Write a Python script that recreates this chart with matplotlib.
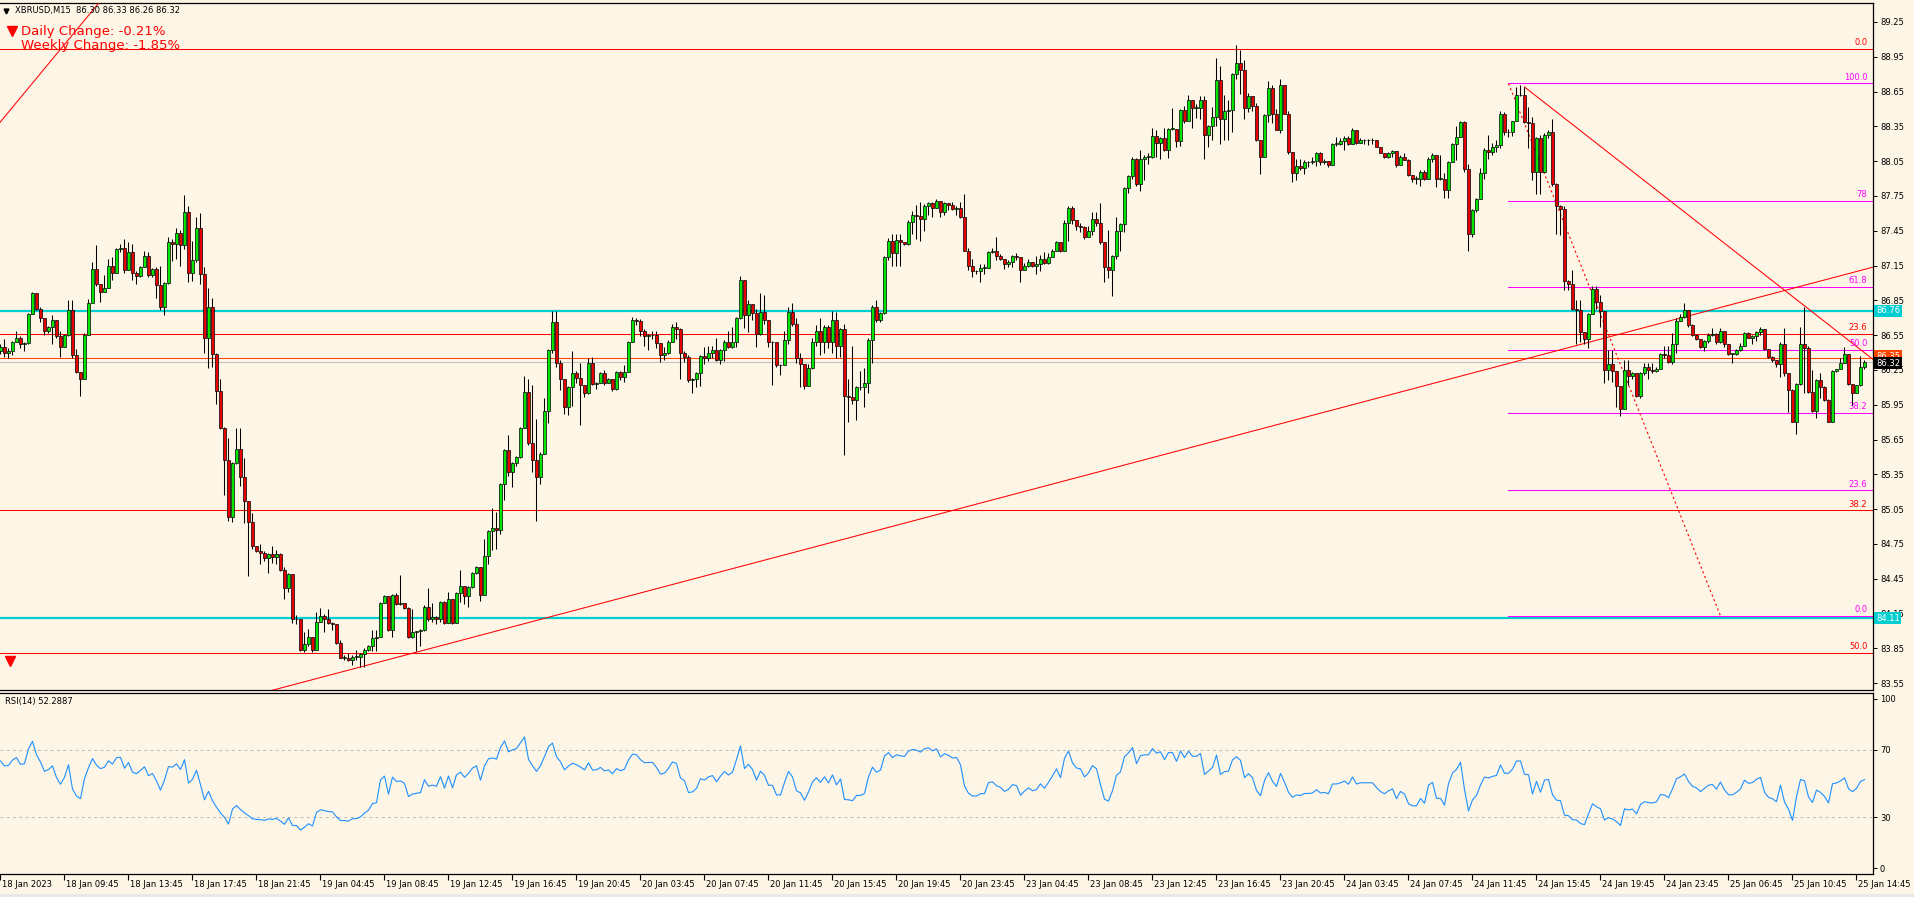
import numpy as np
import matplotlib
matplotlib.use('Agg')
import matplotlib.pyplot as plt
from matplotlib.transforms import blended_transform_factory as btf

# ---------------- data ----------------
first_open = 86.41
closes = [
86.45,86.40,86.41,86.49,86.53,86.47,86.48,86.73,86.91,86.78,86.70,86.59,86.62,86.68,86.54,86.45,86.55,86.77,86.38,86.23,
86.17,86.55,86.83,87.12,86.99,86.92,86.96,87.15,87.09,87.29,87.30,87.11,87.27,87.09,87.06,87.14,87.23,87.07,87.12,86.98,
86.79,87.00,87.35,87.34,87.43,87.33,87.61,87.09,87.20,87.47,87.08,86.53,86.79,86.39,86.07,85.75,85.47,84.98,85.45,85.57,
85.33,85.12,84.94,84.73,84.69,84.67,84.63,84.66,84.64,84.66,84.53,84.37,84.49,84.10,84.10,83.84,83.89,83.95,83.84,84.08,
84.13,84.10,84.07,84.06,83.90,83.77,83.77,83.75,83.78,83.78,83.80,83.84,83.87,83.94,83.95,84.24,84.30,84.01,84.31,84.23,
84.24,84.20,83.95,83.99,84.00,84.01,84.21,84.10,84.12,84.10,84.25,84.07,84.28,84.07,84.33,84.39,84.30,84.38,84.50,84.55,
84.31,84.65,84.86,84.89,84.87,85.27,85.56,85.37,85.45,85.50,85.75,86.06,85.62,85.47,85.33,85.53,85.90,86.42,86.66,86.31,
86.17,85.93,86.10,86.22,86.18,86.12,86.05,86.31,86.13,86.14,86.22,86.14,86.17,86.09,86.23,86.19,86.23,86.49,86.68,86.67,
86.59,86.54,86.55,86.55,86.48,86.38,86.40,86.49,86.62,86.60,86.40,86.36,86.16,86.17,86.22,86.37,86.35,86.40,86.42,86.34,
86.42,86.49,86.45,86.49,86.70,87.03,86.72,86.82,86.74,86.56,86.75,86.68,86.49,86.49,86.29,86.29,86.51,86.75,86.65,86.35,
86.30,86.11,86.27,86.49,86.59,86.49,86.62,86.49,86.68,86.46,86.60,86.03,86.02,85.99,86.10,86.10,86.14,86.51,86.79,86.68,
86.74,87.22,87.36,87.26,87.37,87.35,87.34,87.53,87.59,87.58,87.55,87.66,87.69,87.65,87.71,87.61,87.69,87.67,87.64,87.65,
87.57,87.28,87.15,87.10,87.10,87.13,87.13,87.27,87.28,87.23,87.21,87.16,87.18,87.23,87.22,87.11,87.15,87.18,87.15,87.16,
87.21,87.17,87.22,87.28,87.35,87.28,87.52,87.65,87.54,87.49,87.48,87.40,87.45,87.55,87.52,87.35,87.14,87.11,87.23,87.45,
87.51,87.82,87.92,88.07,87.85,88.07,88.09,88.09,88.27,88.21,88.25,88.15,88.33,88.33,88.22,88.49,88.40,88.58,88.51,88.51,
88.58,88.28,88.35,88.43,88.75,88.41,88.48,88.49,88.80,88.90,88.84,88.51,88.61,88.53,88.23,88.09,88.45,88.68,88.46,88.32,
88.71,88.46,88.13,87.95,88.01,87.99,88.04,88.04,88.05,88.12,88.04,88.05,88.02,88.20,88.20,88.22,88.25,88.20,88.32,88.21,
88.23,88.23,88.23,88.23,88.17,88.12,88.09,88.12,88.14,88.02,88.09,88.06,87.93,87.90,87.90,87.96,87.90,88.07,88.10,87.90,
87.90,87.80,88.04,88.20,88.26,88.39,87.98,87.42,87.63,87.72,87.95,88.15,88.13,88.17,88.19,88.46,88.30,88.30,88.40,88.62,
88.62,88.39,88.38,87.96,88.25,87.96,88.28,88.30,87.85,87.66,87.64,87.02,86.99,86.78,86.77,86.58,86.52,86.73,86.95,86.84,
86.76,86.25,86.30,86.24,86.11,85.91,86.25,86.20,86.22,86.03,86.22,86.28,86.25,86.24,86.26,86.39,86.38,86.32,86.47,86.67,
86.71,86.77,86.64,86.55,86.52,86.45,86.50,86.55,86.56,86.49,86.59,86.47,86.39,86.39,86.42,86.46,86.57,86.53,86.54,86.58,
86.60,86.43,86.36,86.34,86.30,86.47,86.22,86.08,85.80,86.13,86.47,86.44,86.06,85.90,86.16,86.10,85.99,85.80,86.24,86.26,
86.31,86.39,86.13,86.05,86.12,86.28,86.32]
highs = [
86.47,86.52,86.44,86.50,86.59,86.54,86.49,86.74,86.92,86.91,86.79,86.69,86.63,86.72,86.68,86.59,86.56,86.85,86.85,86.43,
86.23,86.57,86.86,87.18,87.33,86.98,87.07,87.21,87.22,87.30,87.34,87.38,87.35,87.34,87.10,87.15,87.28,87.27,87.13,87.14,
87.15,87.01,87.40,87.38,87.47,87.46,87.76,87.66,87.36,87.57,87.60,87.14,86.96,86.87,86.40,86.17,85.76,85.66,85.46,85.75,
85.75,85.49,85.12,85.02,84.73,84.75,84.69,84.67,84.73,84.70,84.67,84.55,84.50,84.41,84.14,84.08,83.99,84.02,83.95,84.16,
84.20,84.15,84.19,84.08,84.04,83.92,83.79,83.81,83.79,83.84,83.81,83.85,83.88,84.01,84.01,84.25,84.31,84.30,84.32,84.33,
84.48,84.24,84.21,84.19,84.00,84.02,84.22,84.37,84.24,84.13,84.26,84.26,84.34,84.28,84.34,84.53,84.39,84.39,84.51,84.56,
84.55,84.79,84.87,85.06,85.03,85.28,85.57,85.69,85.46,85.51,85.76,86.20,86.17,86.12,85.83,85.54,86.01,86.43,86.76,86.76,
86.34,86.16,86.11,86.41,86.24,86.31,86.12,86.35,86.36,86.15,86.23,86.25,86.18,86.17,86.24,86.24,86.29,86.50,86.71,86.70,
86.69,86.60,86.56,86.59,86.59,86.48,86.45,86.51,86.65,86.66,86.61,86.41,86.38,86.18,86.23,86.38,86.45,86.46,86.46,86.53,
86.43,86.51,86.59,86.62,86.71,87.06,87.03,86.85,86.80,86.78,86.91,86.90,86.68,86.50,86.48,86.30,86.59,86.79,86.83,86.70,
86.40,86.29,86.30,86.53,86.64,86.70,86.64,86.64,86.76,86.75,86.61,86.65,86.17,86.46,86.11,86.24,86.27,86.53,86.81,86.85,
86.75,87.23,87.39,87.42,87.42,87.42,87.35,87.54,87.62,87.67,87.70,87.68,87.70,87.70,87.72,87.70,87.70,87.69,87.70,87.66,
87.70,87.77,87.30,87.21,87.11,87.16,87.16,87.28,87.30,87.40,87.25,87.20,87.20,87.24,87.26,87.22,87.17,87.21,87.18,87.23,
87.24,87.27,87.26,87.29,87.36,87.35,87.54,87.66,87.66,87.53,87.52,87.49,87.49,87.61,87.61,87.69,87.35,87.46,87.24,87.57,
87.52,87.83,87.93,88.09,88.08,88.15,88.10,88.12,88.34,88.32,88.26,88.34,88.34,88.51,88.32,88.50,88.53,88.62,88.58,88.54,
88.61,88.61,88.36,88.52,88.94,88.87,88.62,88.58,88.81,89.05,89.01,88.92,88.64,88.59,88.55,88.22,88.46,88.74,88.71,88.50,
88.76,88.71,88.48,88.13,88.07,88.07,88.06,88.05,88.09,88.13,88.13,88.07,88.05,88.21,88.26,88.25,88.27,88.27,88.34,88.32,
88.25,88.24,88.24,88.25,88.23,88.16,88.11,88.13,88.15,88.14,88.10,88.12,88.07,87.92,87.92,87.97,87.97,88.09,88.12,88.00,
88.10,87.95,88.05,88.21,88.35,88.40,88.40,88.03,87.64,87.73,87.99,88.16,88.28,88.21,88.23,88.48,88.47,88.33,88.40,88.69,
88.71,88.69,88.52,88.43,88.26,88.28,88.29,88.32,88.41,87.86,87.67,87.66,87.03,87.11,86.85,86.85,86.57,86.74,86.97,86.97,
86.90,86.75,86.42,86.42,86.20,86.11,86.34,86.34,86.23,86.20,86.23,86.31,86.31,86.31,86.28,86.40,86.46,86.46,86.57,86.70,
86.73,86.83,86.77,86.65,86.56,86.51,86.51,86.57,86.61,86.57,86.61,86.58,86.47,86.40,86.43,86.48,86.58,86.58,86.55,86.59,
86.62,86.58,86.43,86.37,86.34,86.49,86.61,86.19,86.09,86.14,86.62,86.79,86.46,86.25,86.17,86.22,86.11,86.00,86.25,86.26,
86.35,86.45,86.38,86.13,86.12,86.37,86.34]
lows = [
86.39,86.36,86.35,86.38,86.50,86.44,86.41,86.47,86.73,86.77,86.66,86.55,86.57,86.47,86.53,86.36,86.45,86.54,86.35,86.22,
86.03,86.17,86.55,86.84,86.97,86.84,86.92,86.97,87.03,87.10,87.27,87.09,87.14,87.03,86.99,87.05,87.16,87.05,87.05,86.87,
86.77,86.72,86.99,87.19,87.21,87.15,87.29,87.01,87.02,87.18,86.99,86.40,86.27,86.28,85.96,85.74,85.17,84.95,84.94,85.44,
85.25,84.93,84.47,84.71,84.68,84.58,84.60,84.50,84.59,84.58,84.52,84.28,84.34,84.07,84.06,83.83,83.82,83.87,83.82,83.84,
84.09,83.99,84.06,84.01,83.89,83.77,83.75,83.74,83.71,83.75,83.69,83.69,83.83,83.83,83.83,83.96,84.24,84.00,83.95,84.22,
84.22,84.19,83.94,83.94,83.83,83.87,84.00,84.09,84.08,84.06,84.08,84.06,84.09,84.06,84.07,84.25,84.23,84.21,84.37,84.49,
84.26,84.34,84.58,84.70,84.71,84.84,85.13,85.34,85.24,85.42,85.49,85.75,85.60,85.37,84.95,85.27,85.53,85.79,86.40,86.28,
86.08,85.87,85.86,85.94,86.14,85.78,86.02,86.04,86.12,86.09,86.14,86.12,86.14,86.07,86.08,86.16,86.15,86.38,86.49,86.64,
86.54,86.46,86.42,86.52,86.44,86.32,86.34,86.39,86.49,86.52,86.17,86.32,86.15,86.05,86.10,86.11,86.30,86.33,86.35,86.33,
86.30,86.33,86.44,86.44,86.45,86.69,86.61,86.58,86.68,86.45,86.55,86.65,86.45,86.12,86.28,86.21,86.29,86.47,86.63,86.31,
86.10,86.09,86.11,86.26,86.46,86.38,86.40,86.44,86.40,86.35,86.36,85.52,85.80,85.96,85.82,86.08,85.93,86.05,86.31,86.66,
86.66,86.73,87.20,87.15,87.15,87.15,87.33,87.33,87.42,87.38,87.36,87.45,87.59,87.57,87.65,87.57,87.59,87.63,87.63,87.59,
87.56,87.28,87.11,87.05,87.08,87.01,87.08,87.13,87.26,87.20,87.20,87.12,87.14,87.14,87.20,87.01,87.11,87.14,87.14,87.08,
87.10,87.16,87.16,87.22,87.28,87.27,87.28,87.36,87.51,87.46,87.44,87.38,87.40,87.41,87.49,87.34,87.01,87.04,86.89,87.21,
87.28,87.44,87.78,87.90,87.84,87.79,87.89,88.03,88.08,88.09,88.07,88.14,88.08,88.32,88.17,88.18,88.38,88.41,88.34,88.42,
88.41,88.07,88.17,88.23,88.35,88.20,88.23,88.23,88.30,88.76,88.63,88.41,88.47,88.48,88.22,87.94,88.09,88.39,88.38,88.32,
88.29,88.46,88.11,87.87,87.89,87.97,87.94,88.00,88.03,88.01,88.02,88.03,88.00,88.02,88.18,88.19,88.15,88.19,88.20,88.20,
88.22,88.20,88.19,88.20,88.17,88.12,88.08,88.08,88.09,88.00,88.02,88.06,87.92,87.87,87.85,87.84,87.89,87.90,88.04,87.83,
87.89,87.73,87.73,88.04,88.06,88.26,87.96,87.28,87.40,87.61,87.72,87.90,88.07,88.10,88.13,88.16,88.28,88.26,88.27,88.40,
88.61,88.38,88.16,87.89,87.77,87.77,87.99,88.25,87.84,87.42,87.41,86.94,86.94,86.77,86.47,86.49,86.47,86.44,86.74,86.78,
86.62,86.14,86.16,86.15,85.93,85.85,85.92,86.12,86.17,86.02,86.01,86.21,86.17,86.22,86.23,86.26,86.35,86.31,86.30,86.40,
86.67,86.70,86.62,86.54,86.51,86.44,86.41,86.48,86.54,86.47,86.48,86.45,86.38,86.31,86.38,86.41,86.47,86.53,86.47,86.50,
86.55,86.42,86.35,86.32,86.28,86.19,86.20,85.89,85.80,85.70,86.12,86.05,86.05,85.89,85.84,86.01,85.98,85.80,85.80,86.23,
86.27,86.31,86.12,85.95,86.05,86.11,86.26]

time_labels = ["18 Jan 2023", "18 Jan 09:45", "18 Jan 13:45", "18 Jan 17:45", "18 Jan 21:45",
               "19 Jan 04:45", "19 Jan 08:45", "19 Jan 12:45", "19 Jan 16:45", "19 Jan 20:45",
               "20 Jan 03:45", "20 Jan 07:45", "20 Jan 11:45", "20 Jan 15:45", "20 Jan 19:45",
               "20 Jan 23:45", "23 Jan 04:45", "23 Jan 08:45", "23 Jan 12:45", "23 Jan 16:45",
               "23 Jan 20:45", "24 Jan 03:45", "24 Jan 07:45", "24 Jan 11:45", "24 Jan 15:45",
               "24 Jan 19:45", "24 Jan 23:45", "25 Jan 06:45", "25 Jan 10:45", "25 Jan 14:45"]
bars_per_label = 16
price_ticks = ["83.55", "83.85", "84.15", "84.45", "84.75", "85.05", "85.35", "85.65",
               "85.95", "86.25", "86.55", "86.85", "87.15", "87.45", "87.75", "88.05",
               "88.35", "88.65", "88.95", "89.25"]
rsi_ticks = [0, 30, 70, 100]
rsi_levels = [30, 70]
rsi_period = 14

cyan_levels = [86.76, 84.11]
orange_level = 86.35
bid_level = 86.32
# red Fibonacci (0 at the top, 100 far below)
red_fib_top, red_fib_bottom = 89.02, 78.60
red_fib_ratios = [0.0, 23.6, 38.2, 50.0]
red_fib_labels = ["0.0", "23.6", "38.2", "50.0"]
# magenta Fibonacci (0 at the bottom, 100 at the top)
mag_fib_top, mag_fib_bottom = 88.72, 84.13
mag_fib_ratios = [0.0, 23.6, 38.2, 50.0, 61.8, 78.0, 100.0]
mag_fib_labels = ["0.0", "23.6", "38.2", "50.0", "61.8", "78", "100.0"]
mag_fib_start_bar, mag_fib_end_bar = 377, 430
# trend lines: (bar, price) anchor pairs
rising_line = [(90, 83.69), (350, 86.06)]
falling_line = [(381, 88.69), (450, 86.83)]
old_line = [(0, 88.39), (24, 89.39)]
arrow_mark = (2.5, 83.74)

header = "XBRUSD,M15  86.30 86.33 86.26 86.32"
daily_txt = "Daily Change: -0.21%"
weekly_txt = "Weekly Change: -1.85%"
rsi_txt = "RSI(14) 52.2887"

# ---------------- derived ----------------
c = np.array(closes)
n = len(c)
o = np.concatenate([[first_open], c[:-1]])
h = np.maximum(np.array(highs), np.maximum(o, c))
l = np.minimum(np.array(lows), np.minimum(o, c))
x = np.arange(n)

d = np.diff(np.concatenate([[first_open], c]))
gain = np.clip(d, 0, None)
loss = np.clip(-d, 0, None)
ag = gain[:rsi_period].mean()
al = loss[:rsi_period].mean()
rsi = np.zeros(n)
for i in range(n):
    ag = (ag * (rsi_period - 1) + gain[i]) / rsi_period
    al = (al * (rsi_period - 1) + loss[i]) / rsi_period
    rsi[i] = 100 - 100 / (1 + ag / al) if al > 0 else 100

# ---------------- figure ----------------
BG = '#FDF5E6'
W, H = 1915, 897
fig = plt.figure(figsize=(W / 100, H / 100), dpi=100, facecolor=BG)

def frac(px, py):
    return px / W, 1 - py / H

main_l, main_r, main_t, main_b = 0, 1873, 3, 690
rsi_t, rsi_b = 693, 874
ax = fig.add_axes([0, 1 - main_b / H, main_r / W, (main_b - main_t) / H], facecolor=BG)
ax2 = fig.add_axes([0, 1 - rsi_b / H, main_r / W, (rsi_b - rsi_t) / H], facecolor=BG)

xmin, xmax = -0.125, main_r / 4 - 0.125
px_per_unit = 116.0
ymax = 89.25 + (22 - main_t) / px_per_unit
ymin = 89.25 - (main_b - 22) / px_per_unit

for a in (ax, ax2):
    a.set_xlim(xmin, xmax)
    a.spines['left'].set_visible(False)
    for s in ('top', 'bottom', 'right'):
        a.spines[s].set_color('black')
        a.spines[s].set_linewidth(0.9)

ax.set_ylim(ymin, ymax)
ax.set_xticks([])
ax.yaxis.tick_right()
pt = [float(t) for t in price_ticks]
ax.set_yticks(pt)
ax.set_yticklabels(price_ticks)
ax.tick_params(axis='y', direction='out', length=3, width=0.7, pad=2, labelsize=6, colors='black')

# horizontal levels (full width)
lw1 = 0.75
for lvl in cyan_levels:
    ax.axhline(lvl, color='#00CED1', lw=1.6, zorder=2)
red_levels = [red_fib_top - r / 100 * (red_fib_top - red_fib_bottom) for r in red_fib_ratios]
for lvl, lab in zip(red_levels, red_fib_labels):
    ax.axhline(lvl, color='#FF0000', lw=lw1, zorder=2)
    ax.text(0.997, lvl + 0.015, lab, transform=btf(ax.transAxes, ax.transData),
            ha='right', va='bottom', fontsize=6, color='#FF0000', zorder=5)
ax.axhline(orange_level, color='#FF4500', lw=lw1, zorder=2)
ax.axhline(bid_level, color='#C0C0C0', lw=lw1, zorder=2)

# magenta fib
mag_levels = [mag_fib_bottom + r / 100 * (mag_fib_top - mag_fib_bottom) for r in mag_fib_ratios]
for lvl, lab in zip(mag_levels, mag_fib_labels):
    ax.plot([mag_fib_start_bar, xmax], [lvl, lvl], color='#FF00FF', lw=lw1, zorder=2)
    ax.text(0.997, lvl + 0.015, lab, transform=btf(ax.transAxes, ax.transData),
            ha='right', va='bottom', fontsize=6, color='#FF00FF', zorder=5)
ax.plot([mag_fib_start_bar, mag_fib_end_bar], [mag_fib_top, mag_fib_bottom],
        color='#FF0000', lw=0.8, ls=(0, (2, 2.5)), zorder=3)

# trend lines
def extend(line, x0, x1):
    (xa, ya), (xb, yb) = line
    s = (yb - ya) / (xb - xa)
    return [x0, x1], [ya + s * (x0 - xa), ya + s * (x1 - xa)]

for line, x0 in ((rising_line, xmin), (old_line, xmin), (falling_line, falling_line[0][0])):
    xs, ys = extend(line, x0, xmax)
    ax.plot(xs, ys, color='#FF0000', lw=0.75, zorder=3)

# candles
up = c >= o
ax.vlines(x, l, h, colors='black', lw=0.75, zorder=6)
body_h = np.where(np.abs(c - o) < 0.004, 0.004, c - o)
ax.bar(x, body_h, bottom=o, width=0.72,
       color=np.where(up, '#00E600', '#E60000'), edgecolor='black', linewidth=0.5, zorder=7)

ax.plot([arrow_mark[0]], [arrow_mark[1]], marker='v', color='#FF0000', markersize=7, zorder=8)

# price label boxes on right axis
tr = btf(ax.transAxes, ax.transData)
for lvl in cyan_levels:
    ax.text(1.0016, lvl, f"{lvl:.2f}", transform=tr, ha='left', va='center', fontsize=6,
            color='white', clip_on=False, zorder=10,
            bbox=dict(boxstyle='square,pad=0.2', fc='#00CED1', ec='none'))
ax.text(1.0016, orange_level + 0.02, f"{orange_level:.2f}", transform=tr, ha='left', va='center',
        fontsize=6, color='white', clip_on=False, zorder=10,
        bbox=dict(boxstyle='square,pad=0.2', fc='#FF4500', ec='none'))
ax.text(1.0016, bid_level - 0.01, f"{bid_level:.2f}", transform=tr, ha='left', va='center',
        fontsize=6, color='white', clip_on=False, zorder=11,
        bbox=dict(boxstyle='square,pad=0.2', fc='black', ec='none'))

# ---------------- RSI panel ----------------
r_px = (868 - 699) / 100.0
ax2.set_ylim(-(rsi_b - 868) / r_px, 100 + (699 - rsi_t) / r_px)
ax2.plot(x, rsi, color='#1E90FF', lw=0.8, zorder=4)
for lv in rsi_levels:
    ax2.axhline(lv, color='#C0C0C0', lw=0.75, ls=(0, (3, 3)), zorder=2)
ax2.yaxis.tick_right()
ax2.set_yticks(rsi_ticks)
ax2.set_yticklabels([str(t) for t in rsi_ticks])
ax2.tick_params(axis='y', direction='out', length=3, width=0.7, pad=2, labelsize=6)
tick_bars = [k * bars_per_label for k in range(len(time_labels))]
ax2.set_xticks(tick_bars)
ax2.set_xticklabels([''] * len(tick_bars))
ax2.tick_params(axis='x', direction='out', length=4, width=0.8)
trx = btf(ax2.transData, ax2.transAxes)
for tb, lab in zip(tick_bars, time_labels):
    ax2.text(tb + 0.35, -10 / (rsi_b - rsi_t), lab, transform=trx, ha='left', va='center',
             fontsize=6, color='black', clip_on=False)
ax2.text(5 / main_r, 1 - 8 / (rsi_b - rsi_t), rsi_txt, transform=ax2.transAxes,
         ha='left', va='center', fontsize=6, color='black')

# ---------------- header texts ----------------
fig.text(*frac(15, 11), header, ha='left', va='center', fontsize=6, color='black')
fig.lines.append(plt.Line2D([frac(6, 11)[0]], [frac(6, 11)[1]], marker='v', color='black',
                            markersize=3.5, transform=fig.transFigure))
fig.lines.append(plt.Line2D([frac(12, 31)[0]], [frac(12, 31)[1]], marker='v', color='#FF0000',
                            markersize=7, transform=fig.transFigure))
fig.text(*frac(21, 32), daily_txt, ha='left', va='center', fontsize=9.5, color='#FF0000')
fig.text(*frac(21, 46), weekly_txt, ha='left', va='center', fontsize=9.5, color='#FF0000')

# bottom window border
fig.patches.append(plt.Rectangle((0, 0), 1, 3 / H, transform=fig.transFigure,
                                 fc='#E8E8E8', ec='none'))

fig.savefig('out.png', dpi=100, facecolor=BG)
